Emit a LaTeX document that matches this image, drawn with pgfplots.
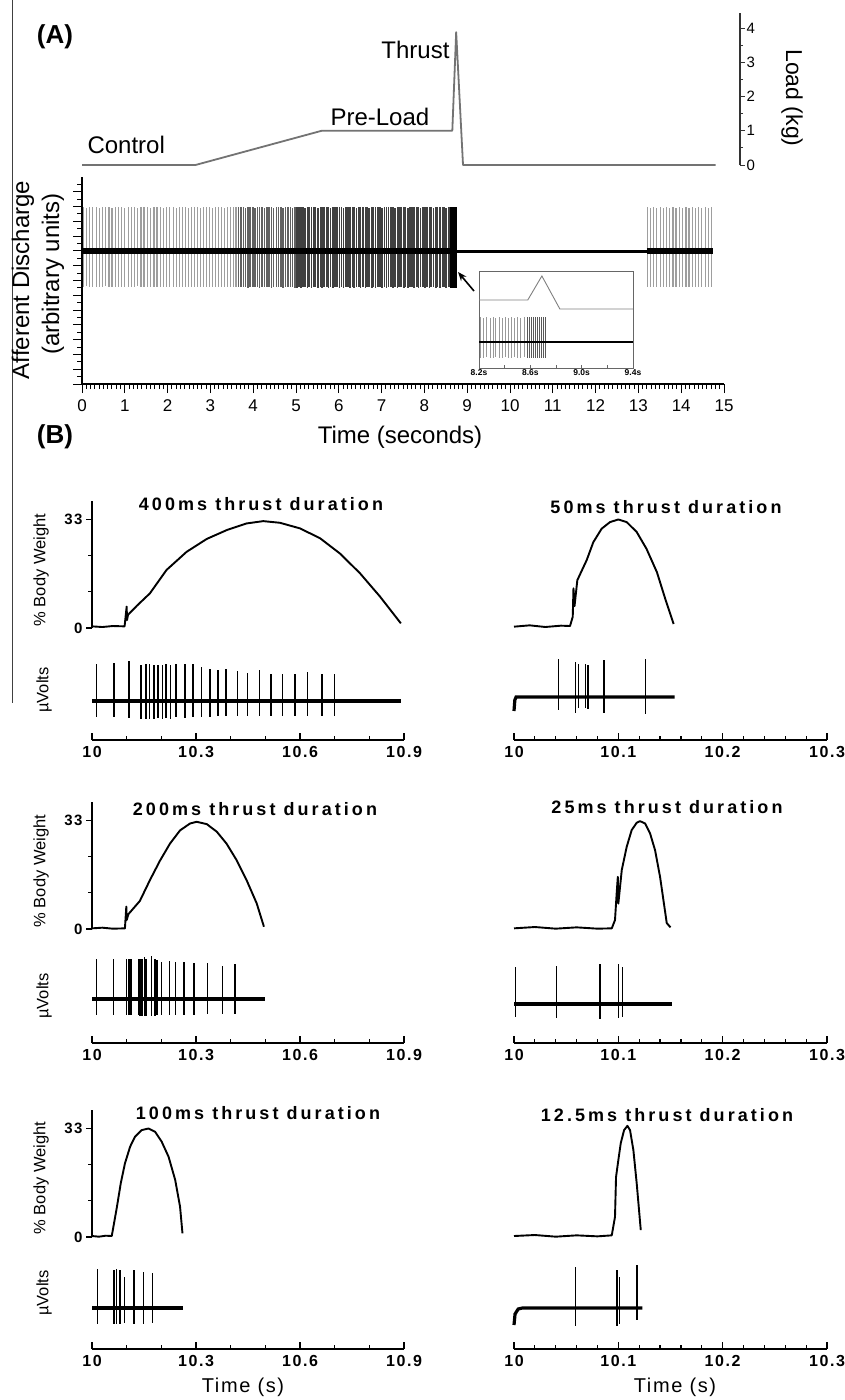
\documentclass[border=0pt]{standalone}
\usepackage{fontspec}
\setmainfont{Liberation Sans}
\newfontfamily\spaced[LetterSpace=17]{Liberation Sans}
\newfontfamily\spacedtick[LetterSpace=10]{Liberation Sans}
\usepackage{pgfplots}
\pgfplotsset{compat=1.18}
\usepackage{pgfplotstable}
\usetikzlibrary{arrows.meta}

\newcommand{\fs}[1]{\fontsize{#1}{#1}\selectfont}

% ---------- panel A: afferent discharge spikes (t, top, bottom) ----------
\pgfplotstableread{
t hi lo
0.03 2.20 -1.80
0.10 2.15 -1.75
0.18 2.20 -1.80
0.25 2.18 -1.78
0.33 2.20 -1.80
0.40 2.16 -1.82
0.48 2.20 -1.80
0.55 2.18 -1.76
0.63 2.20 -1.80
0.70 2.15 -1.80
0.78 2.20 -1.78
0.85 2.18 -1.80
0.93 2.20 -1.82
1.00 2.16 -1.80
1.08 2.20 -1.78
1.15 2.18 -1.80
1.23 2.20 -1.80
1.30 2.15 -1.76
1.38 2.20 -1.80
1.45 2.18 -1.82
1.53 2.20 -1.80
1.60 2.16 -1.78
1.68 2.20 -1.80
1.75 2.18 -1.80
1.83 2.20 -1.82
1.90 2.15 -1.80
1.98 2.20 -1.78
2.05 2.18 -1.80
2.13 2.20 -1.80
2.20 2.16 -1.82
2.28 2.20 -1.80
2.35 2.18 -1.78
2.42 2.20 -1.80
2.49 2.15 -1.80
2.56 2.20 -1.82
2.63 2.18 -1.80
2.70 2.20 -1.78
2.77 2.16 -1.80
2.84 2.20 -1.80
2.91 2.18 -1.82
2.98 2.20 -1.80
3.05 2.16 -1.78
3.12 2.20 -1.80
3.19 2.18 -1.80
3.26 2.20 -1.82
3.33 2.15 -1.80
3.40 2.20 -1.78
3.47 2.18 -1.80
3.54 2.20 -1.80
3.60 2.18 -1.82
}\spkLight

\pgfplotstableread{
t hi lo
3.66 2.20 -1.80
3.71 2.18 -1.82
3.77 2.20 -1.80
3.82 2.16 -1.80
3.88 2.20 -1.84
3.93 2.18 -1.80
3.99 2.20 -1.82
4.04 2.15 -1.80
4.10 2.20 -1.80
4.15 2.18 -1.84
4.21 2.20 -1.80
4.26 2.16 -1.82
4.32 2.20 -1.80
4.37 2.18 -1.80
4.43 2.20 -1.84
4.48 2.15 -1.80
4.54 2.20 -1.82
4.59 2.18 -1.80
4.65 2.20 -1.80
4.70 2.16 -1.84
4.76 2.20 -1.80
4.81 2.18 -1.82
4.87 2.20 -1.80
4.92 2.15 -1.80
4.98 2.20 -1.84
}\spkMid

\pgfplotstableread{
t hi lo
5.02 2.22 -1.84
5.07 2.18 -1.80
5.12 2.20 -1.86
5.16 2.22 -1.82
5.21 2.16 -1.80
5.27 2.20 -1.84
5.31 2.22 -1.80
5.36 2.18 -1.86
5.42 2.20 -1.82
5.46 2.22 -1.80
5.51 2.16 -1.84
5.57 2.20 -1.80
5.61 2.22 -1.86
5.66 2.18 -1.82
5.72 2.20 -1.80
5.76 2.22 -1.84
5.81 2.16 -1.80
5.87 2.20 -1.86
5.91 2.22 -1.82
5.96 2.18 -1.80
6.02 2.20 -1.84
6.06 2.22 -1.80
6.11 2.16 -1.86
6.17 2.20 -1.82
6.21 2.22 -1.80
6.26 2.18 -1.84
6.32 2.20 -1.80
6.36 2.22 -1.86
6.41 2.16 -1.82
6.47 2.20 -1.80
6.51 2.22 -1.84
6.56 2.18 -1.80
6.62 2.20 -1.86
6.66 2.22 -1.82
6.71 2.16 -1.80
6.77 2.20 -1.84
6.81 2.22 -1.80
6.86 2.18 -1.86
6.92 2.20 -1.82
6.96 2.22 -1.80
7.01 2.16 -1.84
7.07 2.20 -1.80
7.11 2.22 -1.86
7.16 2.18 -1.82
7.22 2.20 -1.80
7.26 2.22 -1.84
7.31 2.16 -1.80
7.37 2.20 -1.86
7.41 2.22 -1.82
7.46 2.18 -1.80
7.52 2.20 -1.84
7.56 2.22 -1.80
7.61 2.16 -1.86
7.67 2.20 -1.82
7.71 2.22 -1.80
7.76 2.18 -1.84
7.82 2.20 -1.80
7.86 2.22 -1.86
7.91 2.16 -1.82
7.97 2.20 -1.80
8.01 2.22 -1.84
8.06 2.18 -1.80
8.12 2.20 -1.86
8.16 2.22 -1.82
8.21 2.16 -1.80
8.27 2.20 -1.84
8.31 2.22 -1.80
8.36 2.18 -1.86
8.42 2.20 -1.82
8.46 2.22 -1.80
8.51 2.16 -1.84
8.57 2.20 -1.80
}\spkDark

\pgfplotstableread{
t hi lo
8.610 2.22 -1.86
8.622 2.22 -1.86
8.634 2.22 -1.86
8.646 2.22 -1.86
8.658 2.22 -1.86
8.670 2.22 -1.86
8.682 2.22 -1.86
8.694 2.22 -1.86
8.706 2.22 -1.86
8.718 2.22 -1.86
8.730 2.22 -1.86
8.742 2.22 -1.86
}\spkSolid

\pgfplotstableread{
t hi lo
13.21 2.18 -1.80
13.28 2.16 -1.82
13.36 2.18 -1.80
13.43 2.15 -1.80
13.51 2.18 -1.82
13.58 2.16 -1.80
13.66 2.18 -1.80
13.73 2.15 -1.82
13.81 2.18 -1.80
13.88 2.16 -1.80
13.96 2.18 -1.82
14.03 2.15 -1.80
14.11 2.18 -1.80
14.18 2.16 -1.82
14.26 2.18 -1.80
14.33 2.15 -1.80
14.41 2.18 -1.82
14.48 2.16 -1.80
14.56 2.18 -1.80
14.63 2.15 -1.82
14.71 2.18 -1.80
}\spkPost

% inset spikes (baseline at 0, pixel units)
\pgfplotstableread{
t hi lo
8.210 25 -16
8.235 24 -16
8.260 25 -15
8.285 24 -16
8.310 25 -16
8.330 24 -15
8.355 25 -16
8.380 24 -16
8.405 25 -15
8.430 24 -16
8.450 25 -16
8.475 24 -15
8.500 25 -16
8.525 24 -16
8.550 25 -15
}\insLight
\pgfplotstableread{
t hi lo
8.575 25 -16
8.595 25 -16
8.610 25 -16
8.625 25 -16
8.640 25 -16
8.655 25 -16
8.670 25 -16
8.685 25 -16
8.700 25 -16
8.715 25 -16
}\insDark

% ---------- panel B: spikes (t, top, bottom) in pixels ----------
\pgfplotstableread{
t hi lo
10.013 36.7 -16
10.063 38.3 -16
10.107 39.7 -17
10.141 35.7 -17.7
10.155 36.7 -17.7
10.166 36.7 -17.7
10.178 36.3 -17.7
10.190 36.3 -17
10.203 36.3 -17.7
10.214 36.7 -17
10.226 35.7 -17.7
10.243 36.7 -16
10.268 37.3 -16.7
10.292 36.7 -16
10.316 34.0 -16
10.341 32.3 -16
10.363 30.7 -15.3
10.387 32.3 -15.3
10.420 30.0 -14.7
10.449 28.0 -15
10.483 30.7 -15
10.517 26.7 -15
10.549 27.3 -15
10.586 27.3 -15
10.622 29.0 -15
10.663 27.3 -15
10.699 27.3 -15
}\sA

\pgfplotstableread{
t hi lo
10.0425 38.0 -13.3
10.0590 34.7 -16
10.0620 33.3 -11
10.0687 33.3 -11
10.0710 32.3 -12
10.0863 37.3 -16
10.1260 38.0 -16.7
}\sB

\pgfplotstableread{
t hi lo
10.013 40 -16
10.062 39.7 -16
10.100 40 -16
10.106 40 -16
10.113 40 -16
10.134 40 -16
10.139 40 -16.7
10.144 40 -16.7
10.151 41.7 -16.7
10.155 40 -16.7
10.172 43 -16.7
10.181 40 -16.7
10.188 39 -16
10.201 37.3 -16
10.223 38.3 -16
10.241 37.3 -16
10.266 37 -16
10.295 36.3 -16
10.333 35.7 -15.3
10.376 33.3 -15.3
10.412 35 -15
}\sC

\pgfplotstableread{
t hi lo
10.0013 37.3 -13.3
10.0406 38.3 -14.3
10.0822 39.7 -15.3
10.1000 40 -14.3
10.1040 37.3 -12.7
}\sD

\pgfplotstableread{
t hi lo
10.0164 39.3 -16.3
10.0635 37.7 -16.3
10.0712 38.7 -16.3
10.0810 37.7 -16.3
10.0934 31 -15
10.1220 38.3 -16.3
10.1480 36 -16.3
10.1750 35 -15.3
}\sE

\pgfplotstableread{
t hi lo
10.059 41 -18.3
10.099 37.7 -18.3
10.101 31 -15.7
10.118 42.7 -12.3
}\sF

\pgfplotsset{
  every axis/.append style={scale only axis, anchor=south west, clip=false},
  colL/.style={width=312pt, xmin=10, xmax=10.9},
  colR/.style={width=313pt, xmin=10, xmax=10.3},
  topL/.style={height=127pt, ymin=0, ymax=38.5, hide x axis, axis y line=left,
    axis line style={-, line width=1.2pt},
    ytick={0,33}, yticklabels={0,33}, minor ytick={11,22},
    tick align=outside, major tick length=6pt, minor tick length=4pt,
    tick style={black, line width=1.2pt},
    yticklabel style={font=\spacedtick\bfseries\fs{15}}},
  topR/.style={height=127pt, ymin=0, ymax=38.5, hide axis},
  bot/.style={ymax=45, hide y axis, axis x line=bottom,
    axis line style={-, line width=1.3pt},
    tick align=inside, major tick length=7pt, minor tick length=4pt,
    tick style={black, line width=1.2pt},
    xticklabel style={font=\spacedtick\bfseries\fs{16}, anchor=north, yshift=-3pt}},
  botL/.style={bot, colL, xtick={10,10.3,10.6,10.9}, xticklabels={10,10.3,10.6,10.9},
    minor xtick={10.1,10.2,10.4,10.5,10.7,10.8}},
  botR/.style={bot, colR, xtick={10,10.1,10.2,10.3}, xticklabels={10,10.1,10.2,10.3},
    minor xtick={10.02,10.04,10.06,10.08,10.12,10.14,10.16,10.18,10.22,10.24,10.26,10.28}},
  trace/.style={black, line width=1.9pt, line join=round},
  base/.style={black, line width=3.2pt},
  spk/.style={ycomb, black, line width=1.6pt},
}

\begin{document}
\begin{tikzpicture}
\path[use as bounding box] (0pt,0pt) rectangle (845pt,-1400pt);
\draw[line width=1pt, black!75] (12pt,0pt) -- (12pt,-703pt);

% ================= PANEL A: load =================
\begin{axis}[at={(82pt,-165pt)}, width=658pt, height=152.4pt,
  xmin=0, xmax=15.37, ymin=0, ymax=4.45,
  hide x axis, axis y line=right, axis line style={-, line width=1.1pt, black!80},
  ytick={0,1,2,3,4}, yticklabels={0,1,2,3,4}, minor y tick num=1,
  tick align=outside, major tick length=5pt, minor tick length=3pt,
  tick style={black!80, line width=1pt},
  yticklabel style={font=\fs{15}, xshift=-2pt}]
\addplot[black!55, line width=1.8pt, line join=round] coordinates {
  (0,0) (2.65,0) (5.6,1) (8.65,1) (8.74,3.88) (8.90,0) (14.8,0)};
\end{axis}

% ================= PANEL A: discharge =================
\begin{axis}[at={(82pt,-384pt)}, width=642pt, height=207pt,
  xmin=0, xmax=15, ymin=-6.65, ymax=3.7,
  axis x line=bottom, axis y line=left, axis line style={-, line width=1.3pt},
  xtick={0,...,15}, xticklabels={0,1,2,3,4,5,6,7,8,9,10,11,12,13,14,15},
  minor x tick num=9,
  ytick={-6.65,-5.91,...,3.75}, minor y tick num=1, yticklabels={},
  tick align=outside, major tick length=9pt, minor tick length=5pt,
  tick style={black, line width=1pt},
  typeset ticklabels with strut,
  xticklabel style={font=\fs{17}, yshift=-3pt}]
\addplot[ycomb, black!38, line width=1.2pt] table[x=t, y=hi] {\spkLight};
\addplot[ycomb, black!38, line width=1.2pt] table[x=t, y=lo] {\spkLight};
\addplot[ycomb, black!62, line width=1.5pt] table[x=t, y=hi] {\spkMid};
\addplot[ycomb, black!62, line width=1.5pt] table[x=t, y=lo] {\spkMid};
\addplot[ycomb, black!75, line width=1.6pt] table[x=t, y=hi] {\spkDark};
\addplot[ycomb, black!75, line width=1.6pt] table[x=t, y=lo] {\spkDark};
\addplot[ycomb, black, line width=1.3pt] table[x=t, y=hi] {\spkSolid};
\addplot[ycomb, black, line width=1.3pt] table[x=t, y=lo] {\spkSolid};
\addplot[ycomb, black!38, line width=1.2pt] table[x=t, y=hi] {\spkPost};
\addplot[ycomb, black!38, line width=1.2pt] table[x=t, y=lo] {\spkPost};
\addplot[black, line width=5.5pt] coordinates {(0,0) (8.75,0)};
\addplot[black, line width=3pt] coordinates {(8.75,0) (13.2,0)};
\addplot[black, line width=5.5pt] coordinates {(13.2,0) (14.75,0)};
\end{axis}

% ================= PANEL A: inset =================
\begin{axis}[at={(479pt,-368pt)}, width=154pt, height=97pt,
  xmin=8.2, xmax=9.4, ymin=-26, ymax=71,
  axis background/.style={fill=white},
  axis line style={black!60, line width=0.9pt},
  xtick={8.2,8.6,9.0,9.4}, xticklabels={8.2s,8.6s,9.0s,9.4s},
  minor xtick={8.4,8.8,9.2}, ytick=\empty, xtick pos=bottom,
  tick align=inside, major tick length=3pt, minor tick length=3pt,
  tick style={black!60, line width=0.7pt},
  xticklabel style={font=\bfseries\fs{8.5}, inner sep=1pt}]
\addplot[black!50, line width=0.9pt] coordinates {
  (8.2,42) (8.58,42) (8.69,66) (8.83,33) (9.4,33)};
\addplot[ycomb, black!40, line width=0.6pt] table[x=t, y=hi] {\insLight};
\addplot[ycomb, black!40, line width=0.6pt] table[x=t, y=lo] {\insLight};
\addplot[ycomb, black!65, line width=0.7pt] table[x=t, y=hi] {\insDark};
\addplot[ycomb, black!65, line width=0.7pt] table[x=t, y=lo] {\insDark};
\addplot[black, line width=2.4pt] coordinates {(8.2,0) (9.4,0)};
\end{axis}
\draw[-{Stealth[length=9pt,width=7pt]}, line width=1.6pt] (474pt,-291pt) -- (458pt,-272pt);

% ================= PANEL B, row 1 =================
\begin{axis}[colL, topL, at={(92pt,-628pt)}]
\addplot[trace] coordinates {
  (10.0,0.5) (10.03,0.3) (10.06,0.6) (10.094,0.5) (10.100,6.5) (10.101,2.4) (10.104,4.0)
  (10.13,6.8) (10.167,10.5) (10.215,17.6) (10.273,23.1) (10.331,27.0) (10.389,29.7)
  (10.446,31.7) (10.494,32.4) (10.542,31.9) (10.600,30.2) (10.658,27.2) (10.715,22.6)
  (10.773,16.6) (10.831,9.5) (10.891,1.4)};
\end{axis}
\begin{axis}[botL, at={(92pt,-740pt)}, ymin=-39, height=84pt]
\addplot[spk] table[x=t, y=hi] {\sA};
\addplot[spk] table[x=t, y=lo] {\sA};
\addplot[base] coordinates {(10.0,0) (10.89,0)};
\end{axis}

\begin{axis}[colR, topR, at={(514pt,-626pt)}]
\addplot[trace] coordinates {
  (10.0,-0.2) (10.015,0.2) (10.03,-0.3) (10.045,0.1) (10.0537,0) (10.0563,2.8) (10.057,11.4)
  (10.058,6) (10.0607,13.9) (10.0697,20.0) (10.076,25.4) (10.084,29.5) (10.092,31.5)
  (10.100,32.3) (10.108,31.5) (10.1176,28.5) (10.127,23.4) (10.137,16.3) (10.145,8.2)
  (10.153,0.6)};
\end{axis}
\begin{axis}[botR, at={(514pt,-740pt)}, ymin=-43, height=88pt]
\addplot[spk] table[x=t, y=hi] {\sB};
\addplot[spk] table[x=t, y=lo] {\sB};
\addplot[base] coordinates {(10.0,-14) (10.0008,-3) (10.002,0) (10.154,0)};
\end{axis}

% ================= PANEL B, row 2 =================
\begin{axis}[colL, topL, at={(92pt,-929pt)}]
\addplot[trace] coordinates {
  (10.0,0.2) (10.03,0.4) (10.06,0.1) (10.095,0.2) (10.099,6.8) (10.100,2.7) (10.105,4.5)
  (10.138,8.5) (10.167,14.8) (10.196,20.7) (10.225,25.9) (10.254,29.9) (10.283,32.0)
  (10.302,32.5) (10.331,31.8) (10.360,29.5) (10.388,25.9) (10.417,20.9) (10.446,14.8)
  (10.475,7.8) (10.496,0.7)};
\end{axis}
\begin{axis}[botL, at={(92pt,-1043pt)}, ymin=-44, height=89pt]
\addplot[spk] table[x=t, y=hi] {\sC};
\addplot[spk] table[x=t, y=lo] {\sC};
\addplot[base] coordinates {(10.0,0) (10.50,0)};
\end{axis}

\begin{axis}[colR, topR, at={(514pt,-928pt)}]
\addplot[trace] coordinates {
  (10.0,-0.1) (10.02,0.3) (10.04,-0.2) (10.06,0.2) (10.08,-0.2) (10.0937,-0.1)
  (10.0968,2.4) (10.0984,10.5) (10.0995,15.5) (10.1000,7.4) (10.1033,17.6) (10.108,24.6)
  (10.1128,29.7) (10.1176,31.9) (10.1208,32.4) (10.1256,31.7) (10.1304,28.7)
  (10.1352,23.6) (10.140,15.5) (10.1432,8.5) (10.1464,1.5) (10.150,0.2)};
\end{axis}
\begin{axis}[botR, at={(514pt,-1043pt)}, ymin=-39, height=84pt]
\addplot[spk] table[x=t, y=hi] {\sD};
\addplot[spk] table[x=t, y=lo] {\sD};
\addplot[base] coordinates {(10.0,0) (10.151,0)};
\end{axis}

% ================= PANEL B, row 3 =================
\begin{axis}[colL, topL, at={(92pt,-1237pt)}]
\addplot[trace] coordinates {
  (10.0,0.3) (10.02,0.1) (10.04,0.4) (10.057,0.3) (10.067,6.2) (10.072,9.2) (10.083,16.3)
  (10.095,22.3) (10.110,27.4) (10.124,30.4) (10.143,32.4) (10.163,32.9) (10.182,31.9)
  (10.201,28.9) (10.221,24.3) (10.240,17.3) (10.254,9.2) (10.261,1.1)};
\end{axis}
\begin{axis}[botL, at={(92pt,-1349pt)}, ymin=-41, height=86pt]
\addplot[spk] table[x=t, y=hi] {\sE};
\addplot[spk] table[x=t, y=lo] {\sE};
\addplot[base] coordinates {(10.0,0) (10.262,0)};
\end{axis}

\begin{axis}[colR, topR, at={(514pt,-1236pt)}]
\addplot[trace] coordinates {
  (10.0,0) (10.02,0.3) (10.04,-0.2) (10.06,0.2) (10.08,-0.1) (10.0937,0.2)
  (10.0968,5.8) (10.0978,17.9) (10.1000,23.0) (10.1023,28.1) (10.1055,32.1)
  (10.1087,33.4) (10.1112,32.1) (10.1144,26.1) (10.1176,16.0) (10.1215,1.8)};
\end{axis}
\begin{axis}[botR, at={(514pt,-1349pt)}, ymin=-41, height=86pt]
\addplot[spk] table[x=t, y=hi] {\sF};
\addplot[spk] table[x=t, y=lo] {\sF};
\addplot[base] coordinates {(10.0,-17) (10.001,-6) (10.004,-1) (10.008,0) (10.123,0)};
\end{axis}

% ================= text =================
\node[font=\bfseries\fs{26}] at (55pt,-37pt) {(A)};
\node[font=\fs{24}, anchor=east] at (453pt,-50pt) {Thrust};
\node[font=\fs{24}, anchor=west] at (327pt,-117pt) {Pre-Load};
\node[font=\fs{24}, anchor=west] at (84pt,-145pt) {Control};
\node[font=\fs{23}, rotate=-90] at (792pt,-98pt) {Load (kg)};
\node[font=\fs{24}, rotate=90] at (23pt,-280pt) {Afferent Discharge};
\node[font=\fs{24}, rotate=90] at (53pt,-274pt) {(arbitrary units)};
\node[font=\fs{24}] at (400pt,-437pt) {Time (seconds)};
\node[font=\bfseries\fs{26}] at (55pt,-437pt) {(B)};

\node[font=\spaced\bfseries\fs{18}] at (261pt,-504pt) {400ms thrust duration};
\node[font=\spaced\bfseries\fs{18}] at (666pt,-507pt) {50ms thrust duration};
\node[font=\spaced\bfseries\fs{18}] at (255pt,-809pt) {200ms thrust duration};
\node[font=\spaced\bfseries\fs{18}] at (667pt,-807pt) {25ms thrust duration};
\node[font=\spaced\bfseries\fs{18}] at (258pt,-1113pt) {100ms thrust duration};
\node[font=\spaced\bfseries\fs{18}] at (667pt,-1115pt) {12.5ms thrust duration};

\node[font=\fs{16.5}, rotate=90] at (41pt,-570pt) {\% Body Weight};
\node[font=\fs{16.5}, rotate=90] at (41pt,-871pt) {\% Body Weight};
\node[font=\fs{16.5}, rotate=90] at (41pt,-1178pt) {\% Body Weight};
\node[font=\fs{16.5}, rotate=90] at (44pt,-690pt) {µVolts};
\node[font=\fs{16.5}, rotate=90] at (44pt,-996pt) {µVolts};
\node[font=\fs{16.5}, rotate=90] at (44pt,-1293pt) {µVolts};

\node[font=\fs{20}\addfontfeature{LetterSpace=8}] at (243pt,-1387pt) {Time (s)};
\node[font=\fs{20}\addfontfeature{LetterSpace=8}] at (675pt,-1387pt) {Time (s)};
\end{tikzpicture}
\end{document}
